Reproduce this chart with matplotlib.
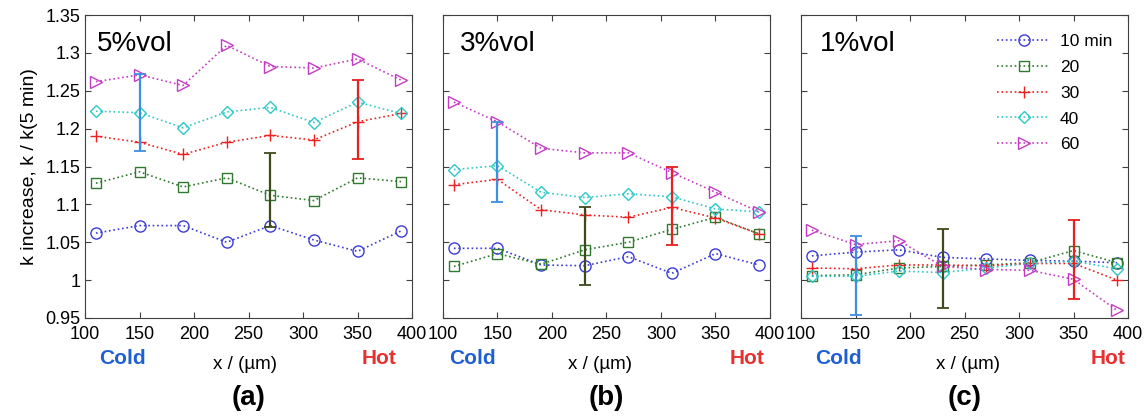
import numpy as np
import matplotlib.pyplot as plt

plt.rcParams['font.family'] = ['Liberation Sans', 'DejaVu Sans']

# positions along the channel (um)
x = [110, 150, 190, 230, 270, 310, 350, 390]
series_labels = ['10 min', '20', '30', '40', '60']
panel_titles = ['5%vol', '3%vol', '1%vol']
panel_tags = ['(a)', '(b)', '(c)']

# k / k(5 min), one list per time, per panel
a_10 = [1.062, 1.072, 1.072, 1.050, 1.072, 1.053, 1.038, 1.065]
a_20 = [1.128, 1.143, 1.123, 1.135, 1.112, 1.105, 1.135, 1.130]
a_30 = [1.190, 1.182, 1.166, 1.182, 1.191, 1.185, 1.209, 1.220]
a_40 = [1.223, 1.221, 1.201, 1.222, 1.228, 1.208, 1.235, 1.220]
a_60 = [1.262, 1.271, 1.257, 1.310, 1.282, 1.280, 1.292, 1.264]

b_10 = [1.042, 1.042, 1.020, 1.019, 1.031, 1.009, 1.035, 1.020]
b_20 = [1.018, 1.035, 1.021, 1.040, 1.050, 1.067, 1.083, 1.061]
b_30 = [1.126, 1.133, 1.093, 1.086, 1.083, 1.096, 1.082, 1.061]
b_40 = [1.146, 1.151, 1.116, 1.109, 1.114, 1.110, 1.094, 1.090]
b_60 = [1.235, 1.209, 1.174, 1.168, 1.168, 1.142, 1.116, 1.090]

c_10 = [1.032, 1.037, 1.040, 1.030, 1.028, 1.026, 1.025, 1.023]
c_20 = [1.006, 1.007, 1.016, 1.018, 1.020, 1.023, 1.039, 1.023]
c_30 = [1.016, 1.015, 1.020, 1.020, 1.019, 1.022, 1.022, 1.000]
c_40 = [1.005, 1.005, 1.012, 1.010, 1.016, 1.022, 1.025, 1.015]
c_60 = [1.066, 1.047, 1.052, 1.018, 1.014, 1.013, 1.001, 0.960]

# error bars: (x, centre, half width, colour) per panel
a_err = [(150, 1.221, 0.051, '#3d8fe0'), (270, 1.119, 0.049, '#3f4a1c'),
         (350, 1.212, 0.052, '#e82020')]
b_err = [(150, 1.156, 0.053, '#3d8fe0'), (230, 1.045, 0.052, '#3f4a1c'),
         (310, 1.098, 0.052, '#e82020')]
c_err = [(150, 1.006, 0.052, '#3d8fe0'), (230, 1.015, 0.052, '#3f4a1c'),
         (350, 1.027, 0.052, '#e82020')]

panels = [[a_10, a_20, a_30, a_40, a_60],
          [b_10, b_20, b_30, b_40, b_60],
          [c_10, c_20, c_30, c_40, c_60]]
errs = [a_err, b_err, c_err]

colors = ['#3b3bd6', '#2f7a2f', '#ee2020', '#2fc8c8', '#c43cc4']
markers = ['o', 's', '+', 'D', '>']
msizes = [8, 7, 9, 6, 8]

fig = plt.figure(figsize=(11.48, 4.17), dpi=100)
W, H = 1148.0, 417.0
lefts = [85, 443, 801]
cold_x = [0.116, 0.09, 0.113]
hot_x = [0.90, 0.93, 0.94]
xl_x = [0.49, 0.48, 0.51]
title_x = [0.037, 0.052, 0.058]

for i in range(3):
    ax = fig.add_axes([lefts[i] / W, 1 - 318 / H, 327 / W, 303 / H])
    for j in range(5):
        ax.plot(x, panels[i][j], linestyle=':', linewidth=1.2, color=colors[j],
                marker=markers[j], markersize=msizes[j], markerfacecolor='none',
                markeredgewidth=1.0, label=series_labels[j])
    for (xe, yc, e, col) in errs[i]:
        ax.errorbar([xe], [yc], yerr=[e], fmt='none', ecolor=col,
                    elinewidth=1.6, capsize=4, capthick=1.3)

    ax.set_xlim(100, 400)
    ax.set_ylim(0.95, 1.35)
    ax.set_xticks(np.arange(100, 401, 50))
    ax.set_yticks(np.arange(0.95, 1.351, 0.05))
    ax.tick_params(direction='in', top=True, right=True, length=4,
                   labelsize=13, color='#404040')
    ax.tick_params(axis='x', pad=6)
    if i == 0:
        ax.set_yticklabels(['0.95', '1', '1.05', '1.1', '1.15', '1.2',
                            '1.25', '1.3', '1.35'])
        ax.set_ylabel('k increase, k / k(5 min)', fontsize=14, labelpad=5)
    else:
        ax.set_yticklabels([])
    for s in ax.spines.values():
        s.set_color('#404040')

    ax.text(title_x[i], 0.905, panel_titles[i], transform=ax.transAxes,
            fontsize=20, va='center', ha='left')
    ax.text(cold_x[i], -0.135, 'Cold', transform=ax.transAxes, fontsize=15,
            fontweight='bold', color='#1f5fd6', ha='center', va='center')
    ax.text(hot_x[i], -0.135, 'Hot', transform=ax.transAxes, fontsize=15,
            fontweight='bold', color='#e83030', ha='center', va='center')
    ax.text(xl_x[i], -0.155, 'x / (\u00b5m)', transform=ax.transAxes,
            fontsize=13.5, ha='center', va='center')
    ax.text(0.5, -0.265, panel_tags[i], transform=ax.transAxes, fontsize=20,
            fontweight='bold', ha='center', va='center')

    if i == 2:
        ax.legend(loc='upper right', frameon=False, fontsize=12.5,
                  handlelength=3.0, labelspacing=0.62, handletextpad=0.6,
                  bbox_to_anchor=(1.0, 0.99))

fig.savefig('out.png', dpi=100)
